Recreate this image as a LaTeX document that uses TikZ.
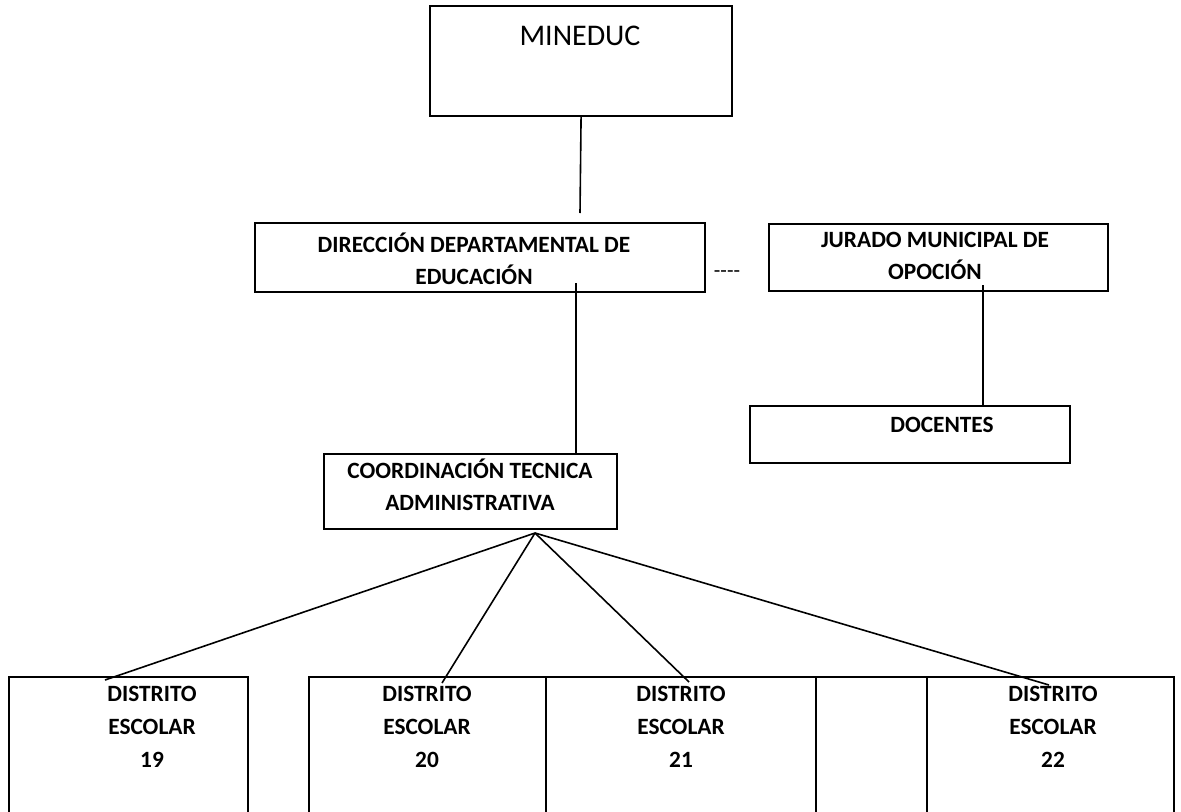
\documentclass[tikz,border=0pt]{standalone}
\usepackage{fontspec}
\setmainfont{Carlito}
\begin{document}
\begin{tikzpicture}[x=0.75pt,y=-0.75pt,
  box/.style={draw, line width=1.6pt, inner sep=0pt, anchor=north west},
  conn/.style={line width=1.2pt},
  lbl/.style={align=center, inner sep=0pt, font=\fontsize{17.5}{24}\selectfont\bfseries},
  dlbl/.style={align=center, inner sep=0pt, font=\fontsize{17.5}{25}\selectfont\bfseries}]
\useasboundingbox (0,0) rectangle (1181,811);
\clip (0,0) rectangle (1181,811);
% boxes
\node[box, minimum width={302*0.75pt}, minimum height={110*0.75pt}] (mineduc) at (429,5) {};
\node[box, minimum width={450*0.75pt}, minimum height={69*0.75pt}] (dir) at (254,222) {};
\node[box, minimum width={339*0.75pt}, minimum height={67*0.75pt}] (jur) at (768,223) {};
\node[box, minimum width={320*0.75pt}, minimum height={57*0.75pt}] (doc) at (749,405) {};
\node[box, minimum width={293*0.75pt}, minimum height={75*0.75pt}] (coord) at (323,453) {};
\node[box, minimum width={239*0.75pt}, minimum height={160*0.75pt}] (b19) at (8,676) {};
\node[box, minimum width={237*0.75pt}, minimum height={160*0.75pt}] (b20) at (308,676) {};
\node[box, minimum width={270*0.75pt}, minimum height={160*0.75pt}] (b21) at (545,676) {};
\node[box, minimum width={111*0.75pt}, minimum height={160*0.75pt}] (bx) at (815,676) {};
\node[box, minimum width={247*0.75pt}, minimum height={160*0.75pt}] (b22) at (926,676) {};
% texts
\node[inner sep=0pt, font=\fontsize{22.5}{28}\selectfont] (tmin) at (580,36) {MINEDUC};
\node[lbl] (tdir) at (474,259) {DIRECCIÓN DEPARTAMENTAL DE\\EDUCACIÓN};
\node[lbl] (tjur) at (935,256) {JURADO MUNICIPAL DE\\OPOCIÓN};
\node[lbl] (tdoc) at (942,425) {DOCENTES};
\node[lbl] (tcoord) at (470,485) {COORDINACIÓN TECNICA\\ADMINISTRATIVA};
\node[inner sep=0pt, font=\fontsize{16}{16}\selectfont] (dash) at (727,274) {{-}{-}{-}{-}};
\node[dlbl] (t19) at (152,727) {DISTRITO\\ESCOLAR\\19};
\node[dlbl] (t20) at (427,727) {DISTRITO\\ESCOLAR\\20};
\node[dlbl] (t21) at (681,727) {DISTRITO\\ESCOLAR\\21};
\node[dlbl] (t22) at (1053,727) {DISTRITO\\ESCOLAR\\22};
% connector points
\coordinate (m1) at (580,213);
\coordinate (d1) at (576,283);
\coordinate (j1) at (983,285);
\coordinate (apex) at (535,533);
\coordinate (e19) at (105,680);
\coordinate (e20) at (442,683);
\coordinate (e21) at (689,682);
\coordinate (e22) at (1049,685);
% connectors
\draw[conn] (mineduc.south) -- (m1);
\draw[conn] (d1) -- (d1 |- coord.north);
\draw[conn] (j1) -- (j1 |- doc.north);
\draw[conn] (apex) -- (e19);
\draw[conn] (apex) -- (e20);
\draw[conn] (apex) -- (e21);
\draw[conn] (apex) -- (e22);
\end{tikzpicture}
\end{document}
